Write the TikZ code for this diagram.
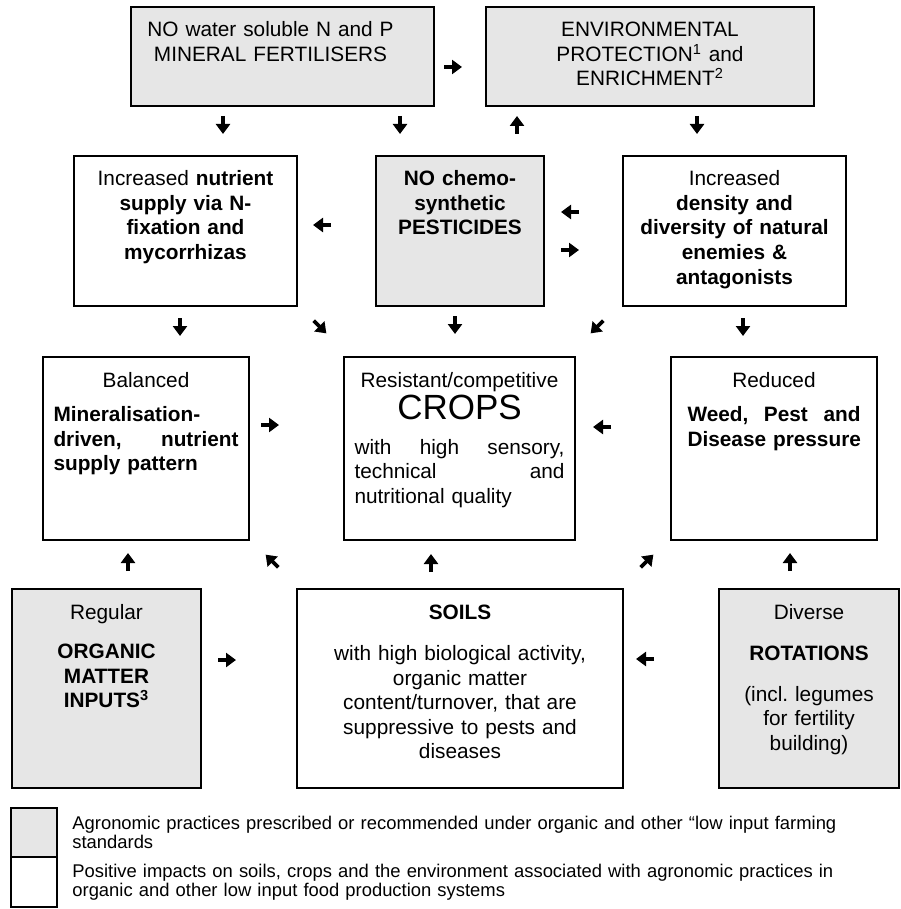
\documentclass[tikz,border=0pt]{standalone}
\usepackage{fontspec}
\setmainfont{Liberation Sans}
\usetikzlibrary{arrows.meta,positioning}
\definecolor{boxgray}{RGB}{230,230,230}

\tikzset{hvarrow/.pic={
  \draw[line width=1.8pt, -{Triangle[length=5pt,width=7pt]}] (-9,0) -- (9,0);}}

\begin{document}
\begin{tikzpicture}[
  x=0.5pt, y=-0.5pt,
  box/.style={draw, line width=1.1pt, anchor=north west, outer sep=0pt,
    inner xsep=3pt, inner ysep=5pt, align=center, text height=10pt,
    font=\fontsize{10.4}{12.25}\selectfont},
  graybox/.style={box, fill=boxgray},
  legbox/.style={draw, line width=1.1pt, outer sep=0pt, minimum width=23pt},
  legtext/.style={inner sep=0pt, text width=400pt, align=left,
    font=\fontsize{9.2}{9.6}\selectfont}]
  \useasboundingbox (0,0) rectangle (900,909);

  % top row
  \node[graybox, text width=145.5pt, text depth=29.5pt] (nofert) at (131,7)
    {\hspace*{-12pt}NO water soluble N and P\\\hspace*{-12pt}MINERAL FERTILISERS};
  \node[graybox, text width=158pt, text depth=29.5pt,
    right=26pt of nofert.north east, anchor=north west] (envprot)
    {ENVIRONMENTAL\\PROTECTION\textsuperscript{1} and\\ENRICHMENT\textsuperscript{2}};

  % second row
  \node[box, text width=105.5pt, text depth=55pt] (nfix) at (74,156)
    {Increased \textbf{nutrient}\\\textbf{supply via N-}\\\textbf{fixation and}\\\textbf{mycorrhizas}};
  \node[graybox, text width=78pt, text depth=55pt,
    right=39.5pt of nfix.north east, anchor=north west] (nopest)
    {\textbf{NO chemo-}\\\textbf{synthetic}\\\textbf{PESTICIDES}};
  \node[box, text width=105.5pt, text depth=55pt,
    right=39.5pt of nopest.north east, anchor=north west] (enemies)
    {Increased\\\textbf{density and}\\\textbf{diversity of natural}\\\textbf{enemies \&}\\\textbf{antagonists}};

  % third row
  \node[box, text width=97pt, text depth=71.5pt] (balance) at (43,357)
    {Balanced\\[5pt]\parbox[t]{92.5pt}{\bfseries Mineralisation-\\driven,\hfill nutrient\\supply pattern}};
  \node[box, text width=109.5pt, text depth=71.5pt,
    right=47.5pt of balance.north east, anchor=north west] (crops)
    {Resistant/competitive\\[1pt]{\fontsize{17.5}{19}\selectfont CROPS}\\[5pt]%
     \parbox[t]{105pt}{with\hfill high\hfill sensory,\\technical\hfill and\\nutritional quality}};
  \node[box, text width=97pt, text depth=71.5pt,
    right=48pt of crops.north east, anchor=north west] (pressure)
    {Reduced\\[5pt]\parbox[t]{86.5pt}{\bfseries Weed,\hfill Pest\hfill and\\\mbox{Disease pressure}}};

  % bottom row
  \node[graybox, text width=88.5pt, text depth=79.5pt] (orgmat) at (12,589)
    {Regular\\[7.5pt]\textbf{ORGANIC}\\\textbf{MATTER}\\\textbf{INPUTS\textsuperscript{3}}};
  \node[box, text width=157pt, text depth=79.5pt,
    right=48pt of orgmat.north east, anchor=north west] (soils)
    {\textbf{SOILS}\\[8.5pt]with high biological activity,\\organic matter\\content/turnover, that are\\suppressive to pests and\\diseases};
  \node[graybox, text width=84pt, text depth=79.5pt,
    right=48pt of soils.north east, anchor=north west] (rotation)
    {Diverse\\[8.5pt]\textbf{ROTATIONS}\\[8pt](incl.\ legumes\\for fertility\\building)};

  % arrows between the boxes
  \pic at (453,67) {hvarrow};
  \pic[rotate=-90] at (223,125) {hvarrow};
  \pic[rotate=-90] at (400,125) {hvarrow};
  \pic[rotate=90] at (517,125) {hvarrow};
  \pic[rotate=-90] at (697,125) {hvarrow};
  \pic[rotate=180] at (322,225) {hvarrow};
  \pic[rotate=180] at (570,212) {hvarrow};
  \pic at (570,250) {hvarrow};
  \pic[rotate=-90] at (180,327) {hvarrow};
  \pic[rotate=-45] at (320,327) {hvarrow};
  \pic[rotate=-90] at (455,325) {hvarrow};
  \pic[rotate=-135] at (597,327) {hvarrow};
  \pic[rotate=-90] at (743,327) {hvarrow};
  \pic at (270,425) {hvarrow};
  \pic[rotate=180] at (602,427) {hvarrow};
  \pic[rotate=90] at (128,562) {hvarrow};
  \pic[rotate=135] at (272,561) {hvarrow};
  \pic[rotate=90] at (431,563) {hvarrow};
  \pic[rotate=45] at (647,561) {hvarrow};
  \pic[rotate=90] at (790,562) {hvarrow};
  \pic at (227,660) {hvarrow};
  \pic[rotate=180] at (645,659) {hvarrow};

  % legend
  \node[legbox, fill=boxgray, minimum height=24.5pt, anchor=north west] (leggray) at (11,808) {};
  \node[legbox, minimum height=25pt, below=0pt of leggray] (legwhite) {};
  \node[legtext, right=7.5pt of leggray] (legprac)
    {Agronomic practices prescribed or recommended under organic and other “low input farming\\standards};
  \node[legtext, right=7.5pt of legwhite] (legimp)
    {Positive impacts on soils, crops and the environment associated with agronomic practices in\\organic and other low input food production systems};
\end{tikzpicture}
\end{document}
